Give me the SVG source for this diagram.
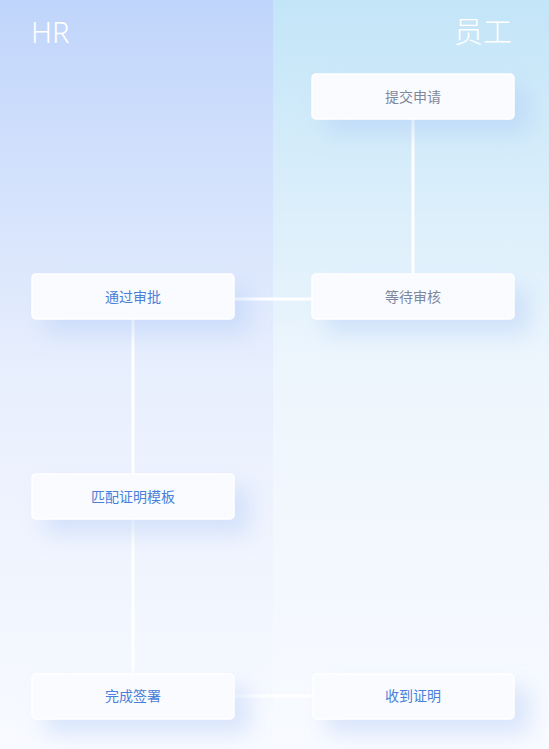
<svg xmlns="http://www.w3.org/2000/svg" width="549" height="749" viewBox="0 0 549 749">
<defs>
<linearGradient id="gl" x1="0" y1="0" x2="0" y2="1">
<stop offset="0" stop-color="#c0d5fb"/>
<stop offset="0.5" stop-color="#e8effd"/>
<stop offset="1" stop-color="#f8faff"/>
</linearGradient>
<linearGradient id="gr" x1="0" y1="0" x2="0" y2="1">
<stop offset="0" stop-color="#c3e5f8"/>
<stop offset="0.5" stop-color="#eef6fd"/>
<stop offset="1" stop-color="#f8faff"/>
</linearGradient>
<filter id="sh" x="-30%" y="-50%" width="170%" height="250%">
<feDropShadow dx="14" dy="14" stdDeviation="11" flood-color="#a9c4f5" flood-opacity="0.38"/>
</filter>
<style>
.box{fill:#f9fbff;stroke:#ffffff;stroke-width:1.5;filter:url(#sh)}
.t{font-family:"Noto Sans CJK SC","Noto Sans",sans-serif;font-size:14px;text-anchor:middle}
.blue{fill:#4a80d9}
.grey{fill:#7d889c}
.lane{font-family:"Noto Sans","Noto Sans CJK SC",sans-serif;font-size:29px;font-weight:300;fill:#ffffff}
.c{stroke:#ffffff;stroke-width:3;fill:none}
</style>
</defs>
<rect x="0" y="0" width="273" height="749" fill="url(#gl)"/>
<rect x="273" y="0" width="276" height="749" fill="url(#gr)"/>
<text class="lane" x="31" y="43">HR</text>
<text class="lane" x="512" y="43" text-anchor="end" style="font-family:'Noto Sans CJK SC',sans-serif">员工</text>
<g id="connectors">
<line class="c" x1="413" y1="119" x2="413" y2="274"/>
<line class="c" x1="234" y1="299" x2="312" y2="299"/>
<line class="c" x1="133" y1="319" x2="133" y2="474"/>
<line class="c" x1="133" y1="519" x2="133" y2="673"/>
<line class="c" x1="234" y1="696" x2="313" y2="696"/>
</g>
<g id="n1"><rect class="box" x="312" y="74" width="202" height="45" rx="4"/><text class="t grey" x="413" y="102">提交申请</text></g>
<g id="n2"><rect class="box" x="312" y="274" width="202" height="45" rx="4"/><text class="t grey" x="413" y="302">等待审核</text></g>
<g id="n3"><rect class="box" x="32" y="274" width="202" height="45" rx="4"/><text class="t blue" x="133" y="302">通过审批</text></g>
<g id="n4"><rect class="box" x="32" y="474" width="202" height="45" rx="4"/><text class="t blue" x="133" y="502">匹配证明模板</text></g>
<g id="n5"><rect class="box" x="32" y="674" width="202" height="45" rx="4"/><text class="t blue" x="133" y="701">完成签署</text></g>
<g id="n6"><rect class="box" x="313" y="674" width="201" height="45" rx="4"/><text class="t blue" x="413" y="701">收到证明</text></g>
</svg>
